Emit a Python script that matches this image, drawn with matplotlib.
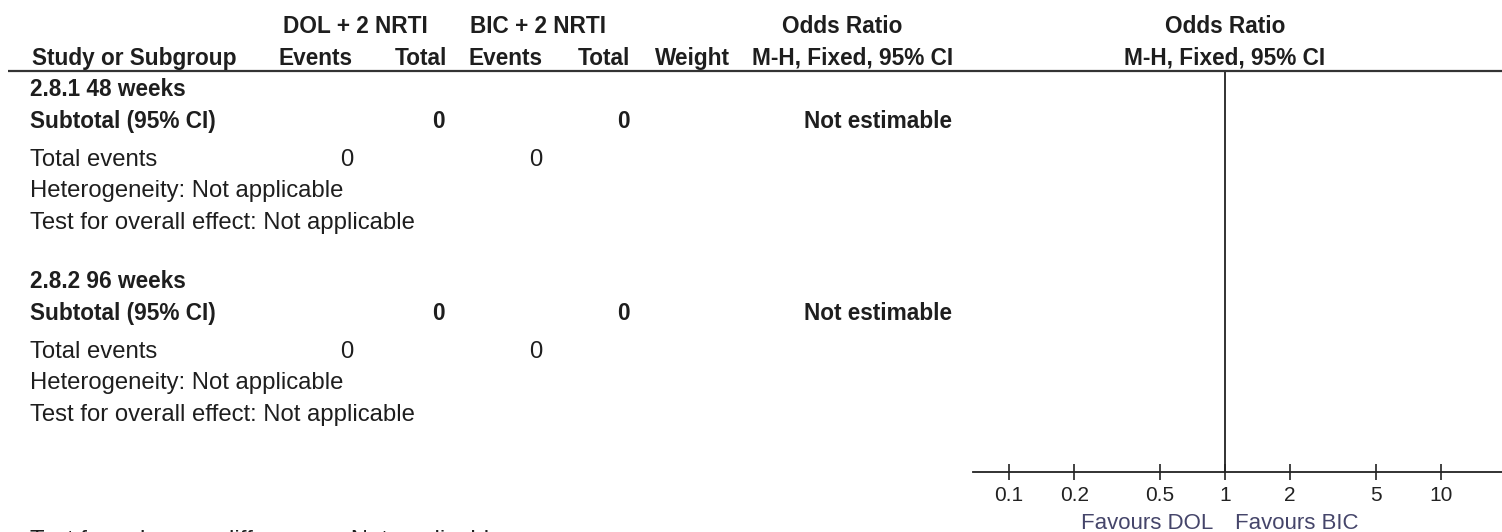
import matplotlib.pyplot as plt
from matplotlib.ticker import FixedLocator, FixedFormatter, NullLocator

W, H = 1502, 532

subgroups = ["2.8.1 48 weeks", "2.8.2 96 weeks"]
dol_events = [0, 0]
dol_total = [0, 0]
bic_events = [0, 0]
bic_total = [0, 0]
effect_text = ["Not estimable", "Not estimable"]
heterogeneity = ["Not applicable", "Not applicable"]
overall_effect = ["Not applicable", "Not applicable"]
subgroup_diff = "Not applicable"

or_ticks = [0.1, 0.2, 0.5, 1, 2, 5, 10]
or_tick_labels = ["0.1", "0.2", "0.5", "1", "2", "5", "10"]
or_limits = (0.068, 19.2)

TXT = '#1e1e1e'
BOLD_SIZE = 16.3
REG_SIZE = 17.2

plt.rcParams['font.family'] = ['Liberation Sans', 'DejaVu Sans']

fig = plt.figure(figsize=(W / 100, H / 100), dpi=100)
ax = fig.add_axes([0, 0, 1, 1])
ax.set_xlim(0, W)
ax.set_ylim(H, 0)
ax.axis('off')


def put(x, y, s, bold=False, ha='left', size=None, color=TXT):
    if size is None:
        size = BOLD_SIZE if bold else REG_SIZE
    ax.text(x, y, s, ha=ha, va='baseline', fontsize=size,
            fontweight='bold' if bold else 'normal', color=color)


# column headers
put(355, 33, "DOL + 2 NRTI", bold=True, ha='center')
put(538, 33, "BIC + 2 NRTI", bold=True, ha='center')
put(842, 33, "Odds Ratio", bold=True, ha='center')
put(1225, 33, "Odds Ratio", bold=True, ha='center')
put(32, 65, "Study or Subgroup", bold=True)
put(353, 65, "Events", bold=True, ha='right')
put(447, 65, "Total", bold=True, ha='right')
put(542, 65, "Events", bold=True, ha='right')
put(630, 65, "Total", bold=True, ha='right')
put(730, 65, "Weight", bold=True, ha='right')
put(953, 65, "M-H, Fixed, 95% CI", bold=True, ha='right')
put(1225, 65, "M-H, Fixed, 95% CI", bold=True, ha='center')

ax.plot([8, W], [71, 71], color='#333333', lw=1.6, solid_capstyle='butt')

# one block per subgroup
for i, name in enumerate(subgroups):
    y0 = 96 + 192 * i
    put(30, y0, name, bold=True)
    put(30, y0 + 32, "Subtotal (95% CI)", bold=True)
    put(445, y0 + 32, str(dol_total[i]), bold=True, ha='right')
    put(630, y0 + 32, str(bic_total[i]), bold=True, ha='right')
    put(952, y0 + 32, effect_text[i], bold=True, ha='right')
    put(30, y0 + 70, "Total events")
    put(353, y0 + 70, str(dol_events[i]), ha='right')
    put(542, y0 + 70, str(bic_events[i]), ha='right')
    put(30, y0 + 101, "Heterogeneity: " + heterogeneity[i])
    put(30, y0 + 133, "Test for overall effect: " + overall_effect[i])

# runs past the bottom edge, only the top of the line shows
put(30, 547, "Test for subgroup differences: " + subgroup_diff)

# forest plot scale
ax2 = fig.add_axes([973 / W, (H - 472) / H, (W - 973) / W, 400 / H])
ax2.set_xscale('log')
ax2.set_xlim(or_limits)
ax2.set_ylim(0, 1)
ax2.patch.set_alpha(0)
for side in ['top', 'right', 'left']:
    ax2.spines[side].set_visible(False)
ax2.spines['bottom'].set_linewidth(1.3)
ax2.spines['bottom'].set_color('#222222')
ax2.yaxis.set_visible(False)
ax2.xaxis.set_major_locator(FixedLocator(or_ticks))
ax2.xaxis.set_major_formatter(FixedFormatter(or_tick_labels))
ax2.xaxis.set_minor_locator(NullLocator())
ax2.tick_params(axis='x', direction='inout', length=11.5, width=1.2, pad=4,
                labelsize=15, colors='#222222')
ax2.axvline(1, color='#222222', lw=1.3)

put(1213, 529, "Favours DOL", ha='right', size=16, color='#45456a')
put(1235, 529, "Favours BIC", size=16, color='#45456a')

fig.savefig('out.png', dpi=100)
